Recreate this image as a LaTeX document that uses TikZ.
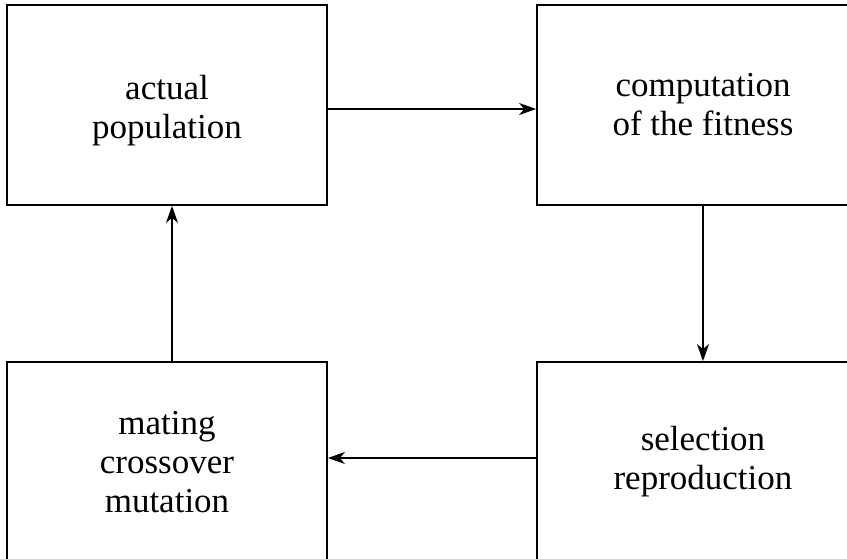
\documentclass[tikz,border=0pt]{standalone}
\usepackage{fontspec}
\setmainfont{Liberation Serif}
\usetikzlibrary{arrows.meta,calc}
\begin{document}
\begin{tikzpicture}[x=1pt,y=-1pt,
  stagetext/.style={align=center,inner sep=0pt,font=\fontsize{35}{39}\selectfont},
  stagebox/.style={stagetext,draw=black,line width=1.8pt,minimum height=200pt},
  flow/.style={line width=1.3pt,-{Stealth[length=17pt,width=12pt,inset=5pt]}}]
  \useasboundingbox (0,0) rectangle (847,559);
  \clip (0,0) rectangle (847,559);
  % the four stages of the genetic loop
  \node[stagebox,minimum width=320pt] (pop) at (167,105) {};
  \node[stagetext] (poptext) at (167,111) {actual\\population};
  \node[stagebox,minimum width=332pt] (fit) at (703,105) {computation\\of the fitness};
  \node[stagebox,minimum width=320pt] (mate) at (167,462) {mating\\crossover\\mutation};
  \node[stagebox,minimum width=332pt] (sel) at (703,462) {selection\\reproduction};
  % arrows closing the cycle
  \draw[flow] ($(pop.east)+(0,4)$) -- ($(fit.west)+(0,4)$);
  \draw[flow] (fit.south) -- (sel.north);
  \draw[flow] ($(sel.west)+(0,-4)$) -- ($(mate.east)+(0,-4)$);
  \draw[flow] ($(mate.north)+(5,0)$) -- ($(pop.south)+(5,0)$);
\end{tikzpicture}
\end{document}
